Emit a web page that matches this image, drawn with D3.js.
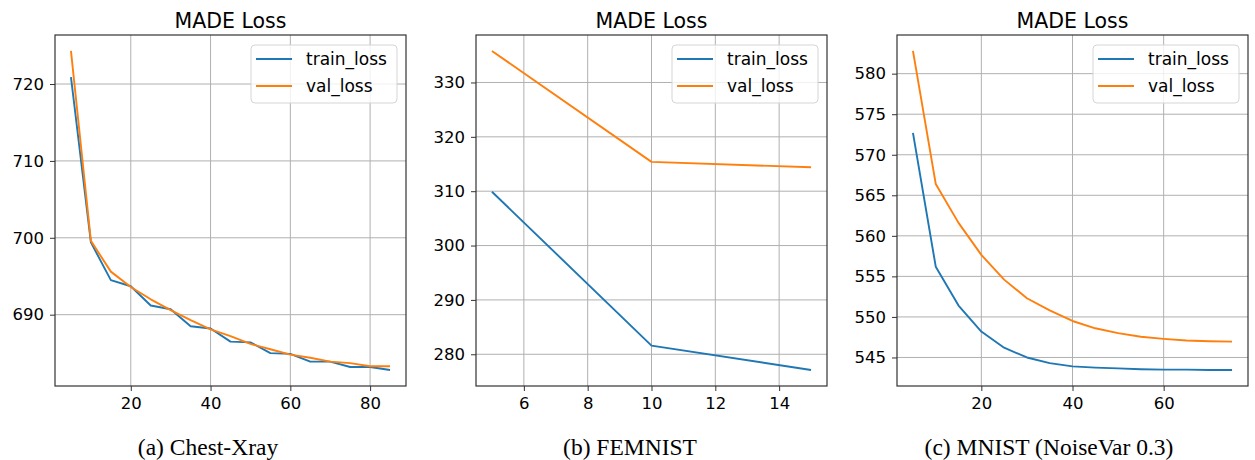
<!DOCTYPE html>
<html>
<head>
<meta charset="utf-8">
<script src="https://cdn.jsdelivr.net/npm/d3@7"></script>
<style>
  body { margin: 0; background: #fff; }
  svg text { font-family: "DejaVu Sans", sans-serif; fill: #000; }
  .caption { font-family: "Liberation Serif", "Times New Roman", serif; }
</style>
</head>
<body>
<svg id="chart" width="1255" height="460"></svg>
<script>
// series names
const seriesNames = ["train_loss", "val_loss"];
const seriesColors = ["#1f77b4", "#ff7f0e"];

// (a) Chest-Xray
const epochsA = [5, 10, 15, 20, 25, 30, 35, 40, 45, 50, 55, 60, 65, 70, 75, 80, 85];
const trainA = [720.9, 699.4, 694.5, 693.7, 691.2, 690.7, 688.5, 688.2, 686.5, 686.4, 685.0, 684.9, 683.9, 683.9, 683.2, 683.2, 682.8];
const valA   = [724.3, 699.6, 695.6, 693.6, 692.0, 690.6, 689.3, 688.1, 687.2, 686.2, 685.5, 684.8, 684.4, 683.9, 683.7, 683.3, 683.3];
const xTicksA = [20, 40, 60, 80];
const yTicksA = [690, 700, 710, 720];

// (b) FEMNIST
const epochsB = [5, 10, 15];
const trainB = [309.9, 281.6, 277.1];
const valB   = [335.8, 315.4, 314.4];
const xTicksB = [6, 8, 10, 12, 14];
const yTicksB = [280, 290, 300, 310, 320, 330];

// (c) MNIST (NoiseVar 0.3)
const epochsC = [5, 10, 15, 20, 25, 30, 35, 40, 45, 50, 55, 60, 65, 70, 75];
const trainC = [572.7, 556.2, 551.4, 548.2, 546.2, 545.0, 544.3, 543.9, 543.75, 543.65, 543.55, 543.5, 543.5, 543.45, 543.45];
const valC   = [582.8, 566.4, 561.6, 557.65, 554.6, 552.3, 550.8, 549.5, 548.6, 548.0, 547.55, 547.3, 547.1, 547.0, 546.95];
const xTicksC = [20, 40, 60];
const yTicksC = [545, 550, 555, 560, 565, 570, 575, 580];

const titles = ["MADE Loss", "MADE Loss", "MADE Loss"];
const captions = ["(a) Chest-Xray", "(b) FEMNIST", "(c) MNIST (NoiseVar 0.3)"];

const panels = [
  { x: epochsA, ys: [trainA, valA], xt: xTicksA, yt: yTicksA, left: 55, right: 406, cap: 208 },
  { x: epochsB, ys: [trainB, valB], xt: xTicksB, yt: yTicksB, left: 476, right: 827, cap: 630 },
  { x: epochsC, ys: [trainC, valC], xt: xTicksC, yt: yTicksC, left: 897, right: 1248, cap: 1049 }
];
const plotTop = 35, plotBottom = 386;

const svg = d3.select("#chart");

// matplotlib style 5% margins
function padded(ext) {
  const m = (ext[1] - ext[0]) * 0.05;
  return [ext[0] - m, ext[1] + m];
}

panels.forEach((p, i) => {
  const x = d3.scaleLinear().domain(padded(d3.extent(p.x))).range([p.left, p.right]);
  const y = d3.scaleLinear().domain(padded(d3.extent(p.ys.flat()))).range([plotBottom, plotTop]);
  const g = svg.append("g");

  // grid
  g.selectAll(".gx").data(p.xt).enter().append("line")
    .attr("x1", d => x(d)).attr("x2", d => x(d))
    .attr("y1", plotTop).attr("y2", plotBottom)
    .attr("stroke", "#b0b0b0").attr("stroke-width", 1);
  g.selectAll(".gy").data(p.yt).enter().append("line")
    .attr("x1", p.left).attr("x2", p.right)
    .attr("y1", d => y(d)).attr("y2", d => y(d))
    .attr("stroke", "#b0b0b0").attr("stroke-width", 1);

  // axes
  const xAxis = g.append("g").attr("transform", "translate(0," + plotBottom + ")")
    .call(d3.axisBottom(x).tickValues(p.xt).tickSize(5).tickPadding(6).tickFormat(d3.format("d")));
  const yAxis = g.append("g").attr("transform", "translate(" + p.left + ",0)")
    .call(d3.axisLeft(y).tickValues(p.yt).tickSize(5).tickPadding(6).tickFormat(d3.format("d")));
  [xAxis, yAxis].forEach(a => {
    a.select(".domain").remove();
    a.selectAll("line").attr("stroke", "#333");
    a.selectAll("text").style("font-size", "16.5px").attr("fill", "#000")
      .style("font-family", "'DejaVu Sans', sans-serif");
  });

  // lines
  const line = d3.line().x((d, k) => x(p.x[k])).y(d => y(d));
  p.ys.forEach((s, k) => {
    g.append("path").datum(s)
      .attr("d", line)
      .attr("fill", "none")
      .attr("stroke", seriesColors[k])
      .attr("stroke-width", 1.9)
      .attr("stroke-linejoin", "round");
  });

  // frame
  g.append("rect")
    .attr("x", p.left).attr("y", plotTop)
    .attr("width", p.right - p.left).attr("height", plotBottom - plotTop)
    .attr("fill", "none").attr("stroke", "#333").attr("stroke-width", 1.2);

  // title
  g.append("text")
    .attr("x", (p.left + p.right) / 2).attr("y", 28)
    .attr("text-anchor", "middle")
    .style("font-size", "20.5px")
    .text(titles[i]);

  // legend
  const lg = g.append("g").attr("transform", "translate(" + (p.right - 155) + ",45)");
  lg.append("rect")
    .attr("width", 146).attr("height", 58).attr("rx", 4)
    .attr("fill", "#fff").attr("fill-opacity", 0.8)
    .attr("stroke", "#d5d5d5").attr("stroke-width", 1);
  seriesNames.forEach((name, k) => {
    lg.append("line")
      .attr("x1", 5).attr("x2", 41)
      .attr("y1", 14 + k * 27).attr("y2", 14 + k * 27)
      .attr("stroke", seriesColors[k]).attr("stroke-width", 1.9);
    lg.append("text")
      .attr("x", 55).attr("y", 20 + k * 27)
      .style("font-size", "17px")
      .text(name);
  });

  // caption
  svg.append("text")
    .attr("class", "caption")
    .attr("x", p.cap).attr("y", 455)
    .attr("text-anchor", "middle")
    .style("font-size", "23.5px")
    .style("font-family", "'Liberation Serif', serif")
    .text(captions[i]);
});
</script>
</body>
</html>
